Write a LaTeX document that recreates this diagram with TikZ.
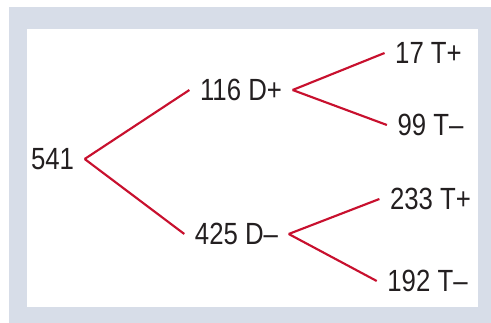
\documentclass[tikz,border=0pt]{standalone}
\usepackage{fontspec}
\setmainfont{Liberation Sans}
\usetikzlibrary{positioning}
\definecolor{framegray}{HTML}{D7DDE8}
\definecolor{branchred}{HTML}{C8102E}
\definecolor{textgray}{HTML}{231F20}
\tikzstyle{count}=[inner sep=0pt,outer sep=8pt,text height=16.4pt,text depth=0pt,font=\fontsize{23}{25}\selectfont,text=textgray]
\tikzstyle{branch} = [draw,line width=1.6pt,branchred]

\begin{document}
\begin{tikzpicture}[x=0.75pt,y=-0.75pt]
    % Frame around the tree
    \useasboundingbox (0,0) rectangle (491,323);
    \fill[white] (0,0) rectangle (491,323);
    \fill[framegray] (9,7) rectangle (491,323);
    \fill[white] (27,29) rectangle (478,307);

    % First we place the counts
    \foreach \pos/\name/\txt in {{(52.5,159)/root/541}, {(241,90)/Dp/116 D+}, {(236.5,234)/Dm/425 D–}, {(428.5,53)/DpTp/17 T+}, {(430.5,125)/DpTm/99 T–}, {(430.5,199)/DmTp/233 T+}, {(427.5,281)/DmTm/192 T–}}
        \node[count] (\name) at \pos {\scalebox{0.84}[1]{\txt}};

    % Connect counts with branches
    \foreach \source/ \dest in {root/Dp, root/Dm, Dp/DpTp, Dp/DpTm, Dm/DmTp, Dm/DmTm}
        \path[branch] (\source.east) -- (\dest.west);
\end{tikzpicture}
\end{document}
